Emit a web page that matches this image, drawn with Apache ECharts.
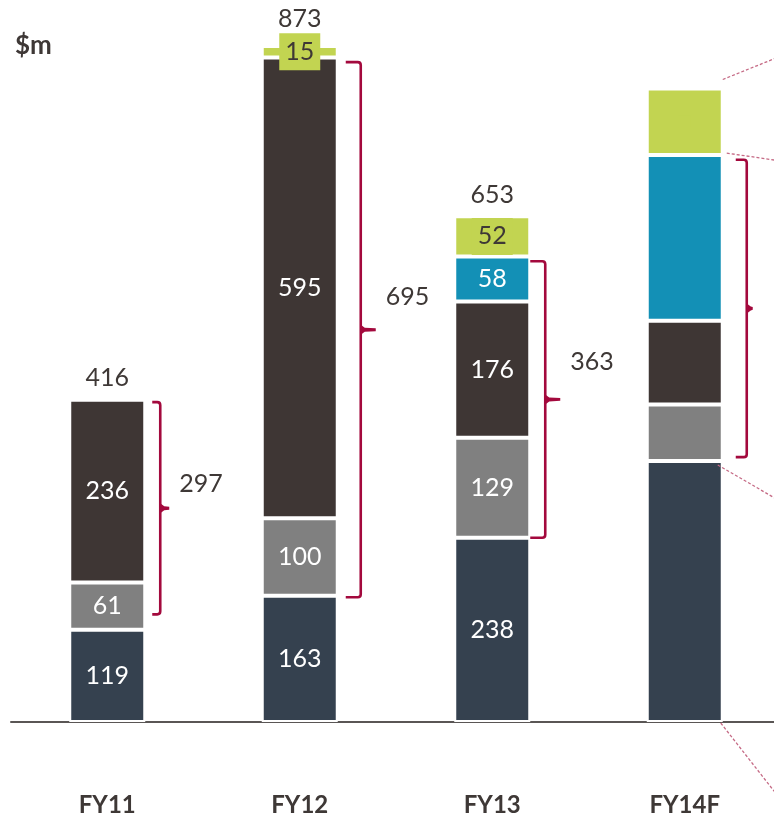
<!DOCTYPE html>
<html>
<head>
<meta charset="utf-8">
<script src="https://cdn.jsdelivr.net/npm/echarts@6/dist/echarts.min.js"></script>
<style>
  html, body { margin: 0; padding: 0; background: #ffffff; }
  #chart { width: 774px; height: 823px; }
</style>
</head>
<body>
<div id="chart"></div>
<script>
// ---- data ($m) ----
const categories  = ['FY11', 'FY12', 'FY13', 'FY14F'];
const navyValues  = [119, 163, 238, 337];
const greyValues  = [61, 100, 129, 73];
const brownValues = [236, 595, 176, 108];
const tealValues  = [null, null, 58, 214];
const limeValues  = [null, 15, 52, 86];
// bars whose segment values and totals are printed
const labelled    = [true, true, true, false];
// extent of the curly bracket beside each bar (value units)
const braceLow    = [139, 161, 238, 342];
const braceHigh   = [413, 852, 595, 726];
const braceLabelled = [true, true, true, false];

// ---- styling ----
const TEXT = '#3e3836';
const BRACE = '#a3093d';
const DOTTED = '#c56a85';
const FONT = 'Lato, "Open Sans", sans-serif';
const BAR_HALF = 37;

const num = v => (v == null ? 0 : v);
const totals = categories.map((_, i) =>
  num(navyValues[i]) + num(greyValues[i]) + num(brownValues[i]) + num(tealValues[i]) + num(limeValues[i]));
const braceTotals = categories.map((_, i) =>
  num(greyValues[i]) + num(brownValues[i]) + num(tealValues[i]));

// bracket drawing offsets from the bar's right edge (px)
const braceGeom = [
  { hook: 8,  spine: 16, tip: 25, dy: -24 },
  { hook: 9,  spine: 24, tip: 39, dy: -33 },
  { hook: 1,  spine: 16, tip: 31, dy: -38 },
  { hook: 14, spine: 25, tip: 31, dy: 0 }
];

function segLabel(color) {
  return {
    show: true,
    position: 'inside',
    color: color,
    fontFamily: FONT,
    fontSize: 25,
    lineHeight: 25,
    formatter: p => (labelled[p.dataIndex] && p.value != null ? String(p.value) : '')
  };
}

function barSeries(name, values, color, labelColor, extraLabel) {
  return {
    name: name,
    type: 'bar',
    stack: 'total',
    barWidth: 76,
    data: values.map(v => (v == null ? '-' : v)),
    itemStyle: { color: color, borderColor: '#ffffff', borderWidth: 2 },
    label: Object.assign(segLabel(labelColor), extraLabel || {}),
    emphasis: { disabled: true },
    silent: true,
    z: 2
  };
}

function renderBrace(params, api) {
  const i = api.value(0);
  const top = api.coord([i, api.value(2)]);
  const bot = api.coord([i, api.value(1)]);
  const g = braceGeom[i];
  const xr = top[0] + BAR_HALF;
  const x0 = xr + g.hook, xs = xr + g.spine, xt = xr + g.tip;
  const yt = top[1], yb = bot[1], ym = (yt + yb) / 2;
  const r = 3;
  const children = [
    {
      type: 'path',
      shape: {
        pathData: 'M' + x0 + ',' + yt + ' L' + (xs - r) + ',' + yt +
          ' Q' + xs + ',' + yt + ' ' + xs + ',' + (yt + r) +
          ' L' + xs + ',' + (yb - r) +
          ' Q' + xs + ',' + yb + ' ' + (xs - r) + ',' + yb +
          ' L' + x0 + ',' + yb
      },
      style: { fill: null, stroke: BRACE, lineWidth: 2.6 }
    },
    {
      type: 'polygon',
      shape: { points: [[xs, ym - 5], [xs + 4, ym - 2], [xt, ym - 1.4], [xt, ym + 1.4], [xs + 4, ym + 2], [xs, ym + 5]] },
      style: { fill: BRACE }
    }
  ];
  if (braceLabelled[i]) {
    children.push({
      type: 'text',
      x: xt + 10,
      y: ym + g.dy,
      style: {
        text: String(api.value(3)),
        fill: TEXT,
        fontFamily: FONT,
        fontSize: 25,
        align: 'left',
        verticalAlign: 'middle'
      }
    });
  }
  return { type: 'group', children: children };
}

// dotted leader lines running off the forecast bar
function renderLeaders(params, api) {
  const i = api.value(0);
  const total = api.value(1), tealTop = api.value(2), navyTop = api.value(3);
  const defs = [
    { v: total,   dx: 1,  dy: -9, vx: 52, vy: -21 },
    { v: tealTop, dx: 5,  dy: -2, vx: 48, vy: 7 },
    { v: navyTop, dx: -4, dy: 4,  vx: 57, vy: 33 },
    { v: 0,       dx: -1, dy: 1,  vx: 54, vy: 69 }
  ];
  return {
    type: 'group',
    children: defs.map(d => {
      const p = api.coord([i, d.v]);
      const x1 = p[0] + BAR_HALF + d.dx, y1 = p[1] + d.dy;
      return {
        type: 'line',
        shape: { x1: x1, y1: y1, x2: x1 + d.vx * 2, y2: y1 + d.vy * 2 },
        style: { stroke: DOTTED, lineWidth: 1.3, lineDash: [3, 2] }
      };
    })
  };
}

const chart = echarts.init(document.getElementById('chart'), null, { renderer: 'canvas' });

const option = {
  animation: false,
  backgroundColor: '#ffffff',
  grid: { left: 11, top: 25, width: 770, height: 697, containLabel: false, outerBoundsMode: 'none' },
  xAxis: {
    type: 'category',
    data: categories,
    axisLine: { show: true, lineStyle: { color: '#5a5655', width: 2 } },
    axisTick: { show: false },
    axisLabel: { margin: 71, color: TEXT, fontFamily: FONT, fontWeight: 'bold', fontSize: 24 },
    splitLine: { show: false }
  },
  yAxis: { type: 'value', min: 0, max: 900, show: false },
  graphic: [
    {
      type: 'text', left: 15, top: 33,
      style: { text: '$m', fill: TEXT, fontFamily: FONT, fontWeight: 'bold', fontSize: 26 }
    }
  ],
  series: [
    barSeries('navy', navyValues, '#35414f', '#ffffff'),
    barSeries('grey', greyValues, '#808080', '#ffffff'),
    barSeries('brown', brownValues, '#3e3634', '#ffffff'),
    barSeries('teal', tealValues, '#1390b6', '#ffffff'),
    barSeries('lime', limeValues, '#c2d451', TEXT, {
      backgroundColor: '#c2d451',
      padding: [7, 6, 5, 6]
    }),
    {
      name: 'totals',
      type: 'scatter',
      symbolSize: 0,
      silent: true,
      itemStyle: { opacity: 1 },
      data: totals.map((t, i) => ({
        value: labelled[i] ? t : '-',
        label: { distance: (limeValues[i] != null && limeValues[i] < 30) ? 14 : 9 }
      })),
      label: {
        show: true,
        position: 'top',
        color: TEXT,
        fontFamily: FONT,
        fontSize: 25,
        formatter: p => String(p.value)
      },
      z: 5
    },
    {
      name: 'brackets',
      type: 'custom',
      silent: true,
      renderItem: renderBrace,
      data: categories.map((_, i) => [i, braceLow[i], braceHigh[i], braceTotals[i]]),
      z: 4
    },
    {
      name: 'leaders',
      type: 'custom',
      silent: true,
      renderItem: renderLeaders,
      data: [[3, totals[3], totals[3] - num(limeValues[3]), num(navyValues[3])]],
      z: 4
    }
  ]
};

chart.setOption(option);
</script>
</body>
</html>
